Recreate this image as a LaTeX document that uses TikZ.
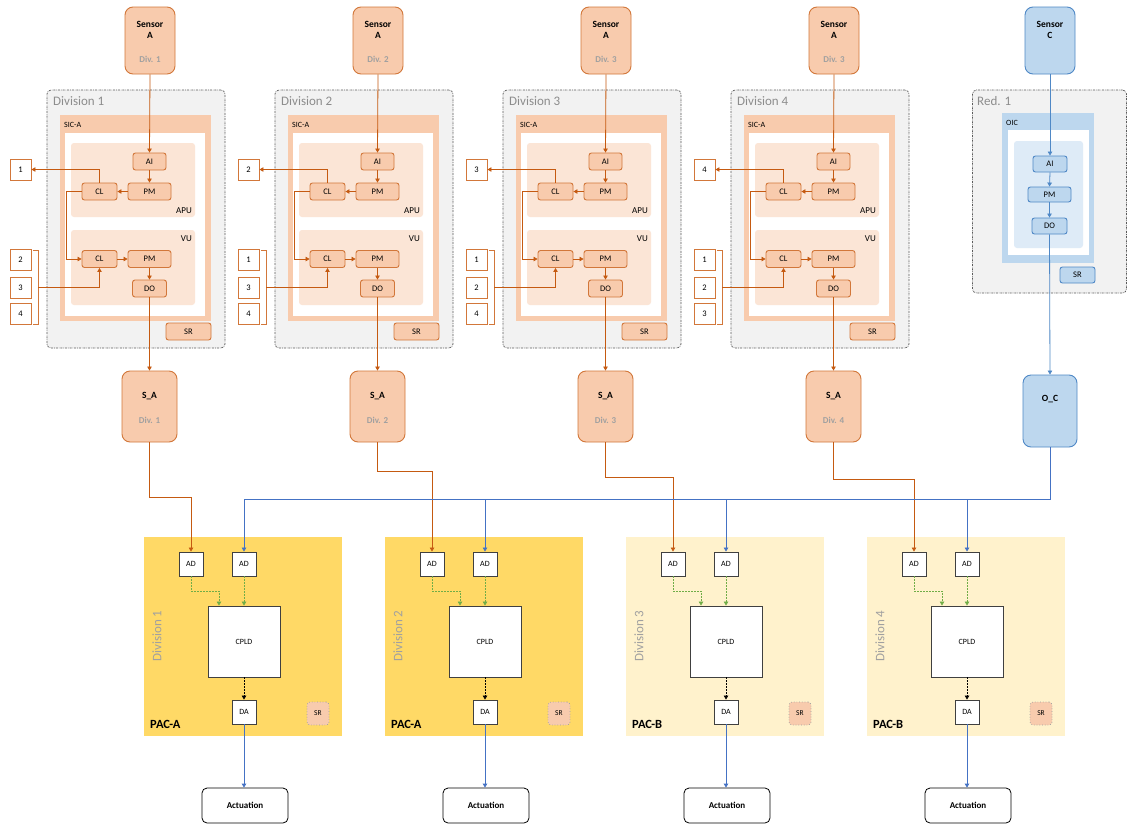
\documentclass[tikz,border=0pt]{standalone}
\usepackage{fontspec}
\setmainfont{Carlito}
\usetikzlibrary{arrows.meta,calc}
\definecolor{oD}{HTML}{C55A11}
\definecolor{oB}{HTML}{D2773A}
\definecolor{peach}{HTML}{F8CBAD}
\definecolor{peachL}{HTML}{FBE5D6}
\definecolor{bD}{HTML}{4F88C6}
\definecolor{bF}{HTML}{BDD7EE}
\definecolor{bL}{HTML}{DEEBF7}
\definecolor{bLine}{HTML}{4472C4}
\definecolor{grayT}{HTML}{8C8C8C}
\definecolor{grayD}{HTML}{A0A0A0}
\definecolor{divF}{HTML}{F2F2F2}
\definecolor{divB}{HTML}{595959}
\definecolor{pacA}{HTML}{FFD966}
\definecolor{pacB}{HTML}{FFF2CC}
\definecolor{gArr}{HTML}{70AD47}
\newcommand\myfs[1]{\fontsize{#1}{#1}\selectfont}
\tikzset{
  wh/.style 2 args={minimum width=#1, minimum height=#2},
  obox/.style={draw=oB, fill=peach, rounded corners=2.5pt, line width=0.9pt, inner sep=0pt, font=\myfs{8.5}},
  bbox/.style={draw=bD, fill=bF, rounded corners=2.5pt, line width=0.9pt, inner sep=0pt, font=\myfs{8.5}},
  numbox/.style={draw=oB, fill=white, line width=0.9pt, inner sep=0pt, minimum width=21, minimum height=21, font=\myfs{8.5}},
  wbox/.style={draw=black!75, fill=white, line width=0.9pt, inner sep=0pt, font=\myfs{8}},
  bigo/.style={draw=oB, fill=peach, rounded corners=8pt, line width=0.9pt, inner sep=0pt},
  bigb/.style={draw=bD, fill=bF, rounded corners=8pt, line width=0.9pt, inner sep=0pt},
  divbox/.style={draw=divB, fill=divF, rounded corners=4pt, line width=0.7pt, dash pattern=on 2pt off 1pt on 0.6pt off 1pt, inner sep=0pt},
  tip/.style={-{Triangle[length=4pt,width=4.5pt]}},
  oarr/.style={draw=oD, line width=0.8pt, tip},
  barr/.style={draw=bLine, line width=0.8pt, tip},
  bpl/.style={draw=bD, line width=0.8pt, tip},
  garr/.style={draw=gArr, line width=0.8pt, dash pattern=on 2pt off 1pt, tip},
  karr/.style={draw=black, line width=0.8pt, dash pattern=on 2pt off 1pt, tip},
  txt/.style={inner sep=0pt},
}
\begin{document}
\begin{tikzpicture}[x=1pt,y=-1pt]
\useasboundingbox (0,0) rectangle (1128,825);
\fill[white] (0,0) rectangle (1128,825);

% ---------------- Divisions (SIC-A) ----------------
\foreach \i/\t/\p/\q/\r/\sd/\oy in {0/1/2/3/4/1/497,1/2/1/3/4/2/471,2/3/1/2/4/3/477,3/4/1/2/3/3/479}{
\begin{scope}[xshift=\i*228]
  \node[bigo, wh={50}{67}] (sen\i) at (150,40.5) {};
  \node[txt, font=\myfs{9.5}\bfseries] (sent\i) at (150,24) {Sensor};
  \node[txt, font=\myfs{9.5}\bfseries] (sena\i) at (150,35) {A};
  \node[txt, font=\myfs{9}\bfseries, text=grayD] (send\i) at (150,59) {Div. \sd};

  \node[divbox, wh={178}{258}] (dv\i) at (136,219) {};
  \node[txt, anchor=west, font=\myfs{13}, text=grayT] (dvl\i) at (53,101.5) {Division \t};

  \node[fill=peach, inner sep=0pt, wh={151}{206}] (sic\i) at (135.5,218) {};
  \node[fill=white, inner sep=0pt, wh={140}{183}] (sicw\i) at (135,224.5) {};
  \node[txt, anchor=west, font=\myfs{8}] (sicl\i) at (64,124.5) {SIC-A};

  \node[fill=peachL, rounded corners=3pt, inner sep=0pt, wh={124}{74}] (apu\i) at (133,180) {};
  \node[txt, anchor=east, font=\myfs{9}] (apul\i) at (192,211) {APU};
  \node[fill=peachL, rounded corners=3pt, inner sep=0pt, wh={124}{75}] (vu\i) at (133,267.5) {};
  \node[txt, anchor=east, font=\myfs{9}] (vul\i) at (192,238.5) {VU};

  \node[obox, wh={33}{17}] (ai\i) at (149.5,161.5) {AI};
  \node[obox, wh={43}{17}] (pm\i) at (149.5,191.5) {PM};
  \node[obox, wh={35}{17}] (cl\i) at (99.5,191.5) {CL};
  \node[obox, wh={35}{17}] (clv\i) at (99.5,259) {CL};
  \node[obox, wh={43}{17}] (pmv\i) at (149.5,259) {PM};
  \node[obox, wh={34}{17}] (do\i) at (149.5,288.5) {DO};
  \node[obox, wh={45}{17}] (sr\i) at (188.5,331.5) {SR};

  \node[numbox] (na\i) at (20.5,169.5) {\t};
  \node[numbox] (nb\i) at (20.5,260) {\p};
  \node[numbox] (nc\i) at (20.5,287.5) {\q};
  \node[numbox] (nd\i) at (20.5,313.5) {\r};

  \node[bigo, wh={55}{71}] (sa\i) at (149.5,406.5) {};
  \node[txt, font=\myfs{9.5}\bfseries] (sat\i) at (149.5,396) {S\_A};
  \node[txt, font=\myfs{9}\bfseries, text=grayD] (sad\i) at (149.5,420) {Div. \t};

  \coordinate (br\i) at (38,287);
  \coordinate (oy\i) at (0,\oy);
  \coordinate (cx\i) at (66,0);

  \draw[oarr] (sen\i.south) -- (ai\i.north);
  \draw[oarr] (ai\i.south) -- (pm\i.north);
  \draw[oarr] (pm\i.west) -- (cl\i.east);
  \draw[oarr] (cl\i.north) |- (na\i.east);
  \draw[oarr] (cl\i.west) -- (cl\i.west -| cx\i) |- (clv\i.west);
  \draw[oarr] (clv\i.east) -- (pmv\i.west);
  \draw[oarr] (pmv\i.south) -- (do\i.north);
  \draw[oarr] (do\i.south) -- (sa\i.north);
  \draw[draw=oB, line width=0.8pt] (33,250) -- (38,250) -- (38,324) -- (33,324);
  \draw[oarr] (br\i) -| (clv\i.south);
\end{scope}
}

% ---------------- Redundant (OIC) ----------------
\node[bigb, wh={50}{67}] (senc) at (1050,40.5) {};
\node[txt, font=\myfs{9.5}\bfseries] (senct) at (1050,24) {Sensor};
\node[txt, font=\myfs{9.5}\bfseries] (sencc) at (1050,35) {C};
\node[divbox, wh={154}{203}] (red) at (1049.5,191.5) {};
\node[txt, anchor=west, font=\myfs{13}, text=grayT] (redl) at (977,101.5) {Red. 1};
\node[fill=bF, inner sep=0pt, wh={92}{150}] (oic) at (1048,188) {};
\node[fill=white, inner sep=0pt, wh={81}{125}] (oicw) at (1048.5,192.5) {};
\node[fill=bL, rounded corners=3pt, inner sep=0pt, wh={69}{107}] (oicl) at (1048.5,194.5) {};
\node[txt, anchor=west, font=\myfs{8}] (oict) at (1006,123) {OIC};
\node[bbox, wh={34}{16}] (aic) at (1050,164) {AI};
\node[bbox, wh={43}{15}] (pmc) at (1049.5,194.5) {PM};
\node[bbox, wh={35}{16}] (doc) at (1049.5,226) {DO};
\node[bbox, wh={35}{16}] (src) at (1077.5,275) {SR};
\node[bigb, wh={54}{72}] (oc) at (1050,411) {};
\node[txt, font=\myfs{9.5}\bfseries] (oct) at (1050,399) {O\_C};
\draw[bpl] (senc.south) -- (aic.north);
\draw[bpl] (aic.south) -- (pmc.north);
\draw[bpl] (pmc.south) -- (doc.north);
\draw[bpl] (doc.south) -- (oc.north);

% ---------------- PACs ----------------
\foreach \j/\nm/\col/\d in {0/A/pacA/1,1/A/pacA/2,2/B/pacB/3,3/B/pacB/4}{
\begin{scope}[xshift=\j*241]
  \node[fill=\col, inner sep=0pt, wh={198}{199}] (pac\j) at (243,636.5) {};
  \node[txt, rotate=90, font=\myfs{13}, text=grayD] (pacd\j) at (157,636) {Division \d};
  \node[txt, anchor=west, font=\myfs{12.5}\bfseries] (pacl\j) at (150,724) {PAC-\nm};
  \node[wbox, wh={24}{24}] (ada\j) at (191,564) {AD};
  \node[wbox, wh={24}{24}] (adb\j) at (244,564) {AD};
  \node[wbox, wh={72}{71}] (cpld\j) at (244,641.5) {CPLD};
  \node[wbox, wh={24}{24}] (da\j) at (244,712) {DA};
  \node[draw=grayD, fill=peach, rounded corners=3pt, line width=0.7pt, dotted, inner sep=0pt, font=\myfs{7.5}, wh={22}{23}] (psr\j) at (318,713.5) {SR};
  \node[draw=black, fill=white, rounded corners=5pt, line width=0.8pt, inner sep=0pt, font=\myfs{9}\bfseries, wh={86}{35}] (act\j) at (245,805.5) {Actuation};
  \coordinate (gy\j) at (219,591);
  \draw[garr] (ada\j.south) |- (gy\j) -- (gy\j |- cpld\j.north);
  \draw[garr] (adb\j.south) -- (adb\j.south |- cpld\j.north);
  \draw[karr] (cpld\j.south) -- (da\j.north);
  \draw[barr] (da\j.south) -- (da\j.south |- act\j.north);
\end{scope}
}

% ---------------- connectors to PACs ----------------
\foreach \i in {0,1,2,3}{
  \draw[oarr] (sa\i.south) -- (sa\i.south |- oy\i) -| (ada\i.north);
}
\coordinate (by) at (0,499);
\draw[draw=bLine, line width=0.8pt] (oc.south) -- (oc.south |- by) -- (adb0.north |- by);
\foreach \j in {0,1,2,3}{
  \draw[barr] (adb\j.north |- by) -- (adb\j.north);
}
\end{tikzpicture}
\end{document}
